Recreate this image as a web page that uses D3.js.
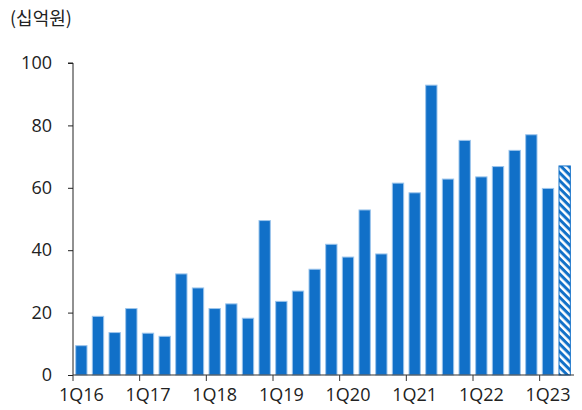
<!DOCTYPE html>
<html>
<head>
<meta charset="utf-8">
<script src="https://cdn.jsdelivr.net/npm/d3@7"></script>
<style>
  html, body { margin: 0; padding: 0; background: #fff; }
  svg { display: block; }
  text { font-family: "Open Sans", "Noto Sans", sans-serif; fill: #222; }
</style>
</head>
<body>
<svg id="chart" width="582" height="410"></svg>
<script>
const quarters = [
  "1Q16","2Q16","3Q16","4Q16",
  "1Q17","2Q17","3Q17","4Q17",
  "1Q18","2Q18","3Q18","4Q18",
  "1Q19","2Q19","3Q19","4Q19",
  "1Q20","2Q20","3Q20","4Q20",
  "1Q21","2Q21","3Q21","4Q21",
  "1Q22","2Q22","3Q22","4Q22",
  "1Q23","2Q23"
];
const values = [
  9.4, 18.8, 13.6, 21.3,
  13.4, 12.4, 32.4, 27.9,
  21.3, 22.8, 18.2, 49.5,
  23.6, 26.9, 33.9, 41.9,
  37.8, 52.9, 38.8, 61.5,
  58.4, 92.9, 62.8, 75.2,
  63.5, 66.8, 72.0, 77.0,
  59.8, 67.0
];
const estimateQuarters = ["2Q23"];
const xTickLabels = ["1Q16","1Q17","1Q18","1Q19","1Q20","1Q21","1Q22","1Q23"];
const yTicks = [0, 20, 40, 60, 80, 100];
const unitLabel = "(십억원)";

const svg = d3.select("#chart");
const barColor = "#1170c8";

const defs = svg.append("defs");
const pat = defs.append("pattern")
  .attr("id", "hatch")
  .attr("patternUnits", "userSpaceOnUse")
  .attr("width", 5.5).attr("height", 5.5)
  .attr("patternTransform", "rotate(-45)");
pat.append("rect").attr("width", 5.5).attr("height", 5.5).attr("fill", barColor);
pat.append("rect").attr("x", 0).attr("y", 0).attr("width", 2.5).attr("height", 5.5).attr("fill", "#fff");

const x = d3.scaleBand().domain(quarters).range([73, 573]).paddingInner(0.32).paddingOuter(0.16);
const y = d3.scaleLinear().domain([0, 100]).range([375, 63]);

// bars
svg.append("g").selectAll("rect")
  .data(quarters.map((q, i) => ({ q, v: values[i] })))
  .join("rect")
  .attr("x", d => x(d.q))
  .attr("y", d => y(d.v))
  .attr("width", x.bandwidth())
  .attr("height", d => y(0) - y(d.v))
  .attr("fill", d => estimateQuarters.includes(d.q) ? "url(#hatch)" : barColor)
  .attr("stroke", d => estimateQuarters.includes(d.q) ? barColor : "#9cc5ec")
  .attr("stroke-width", 1);

// y axis
const yAxis = d3.axisLeft(y).tickValues(yTicks).tickSize(5).tickPadding(16);
const gy = svg.append("g").attr("transform", "translate(73,0)").call(yAxis);
gy.select(".domain").attr("stroke", "#222").attr("d", `M-5,${y(100)}H0V${y(0)}`);
gy.selectAll(".tick line").attr("stroke", "#222");
gy.selectAll(".tick text").style("font-size", "18px").attr("fill", "#222");

// x axis
const step = x.step();
const gx = svg.append("g");
gx.append("line")
  .attr("x1", 73).attr("x2", 574)
  .attr("y1", y(0)).attr("y2", y(0))
  .attr("stroke", "#333").attr("stroke-width", 1.2);
gx.selectAll("line.tk")
  .data(xTickLabels)
  .join("line").attr("class", "tk")
  .attr("x1", q => x(q) + x.bandwidth() / 2 - step / 2)
  .attr("x2", q => x(q) + x.bandwidth() / 2 - step / 2)
  .attr("y1", y(0)).attr("y2", y(0) + 6)
  .attr("stroke", "#333");
gx.selectAll("text")
  .data(xTickLabels)
  .join("text")
  .attr("x", q => x(q) + x.bandwidth() / 2)
  .attr("y", 401)
  .attr("text-anchor", "middle")
  .style("font-size", "18px")
  .text(q => q);

// unit label
svg.append("text")
  .attr("x", 10).attr("y", 25)
  .style("font-family", "'Noto Sans CJK KR', sans-serif")
  .style("font-size", "18px")
  .text(unitLabel);
</script>
</body>
</html>
